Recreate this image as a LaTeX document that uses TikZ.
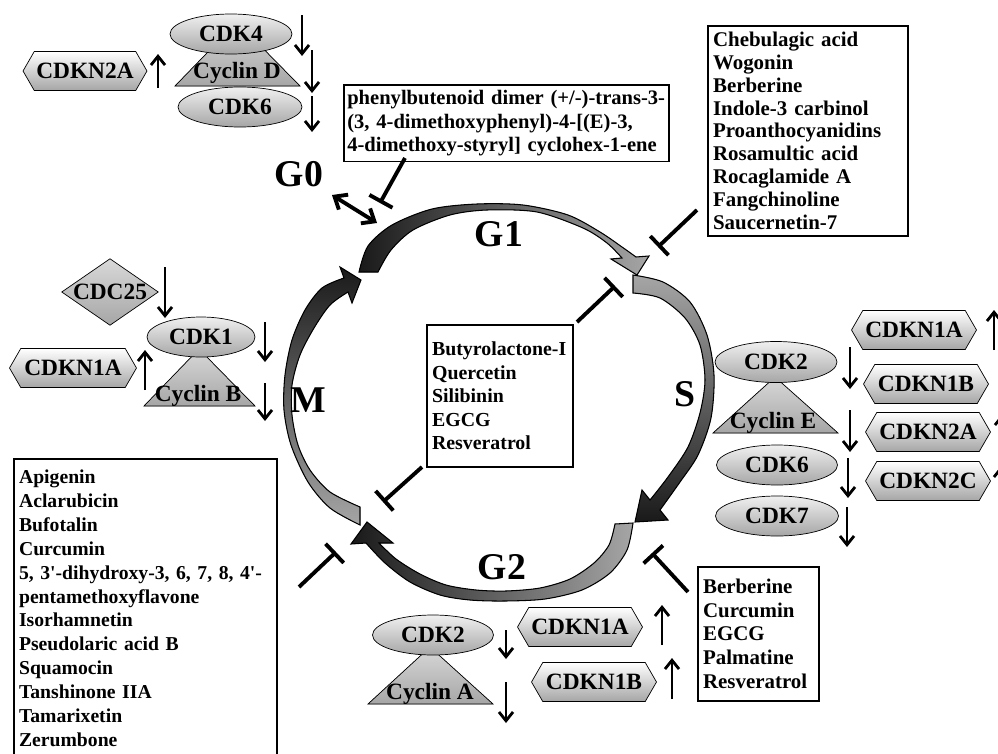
\documentclass[tikz,border=0pt]{standalone}
\usepackage{fontspec}
\setmainfont{Liberation Serif}
\usetikzlibrary{shapes.geometric, shapes.symbols, arrows.meta}

\begin{document}
\begin{tikzpicture}[x=0.02cm, y=-0.02cm,
    prot/.style={ellipse, draw, inner sep=0pt, top color=black!6, bottom color=black!35, minimum width=2.44cm, minimum height=0.8cm, font=\fontsize{13.3}{15}\selectfont\bfseries},
    kip/.style={signal, signal to=west and east, signal pointer angle=120, draw, inner sep=0pt, top color=white, bottom color=black!35, minimum width=2.5cm, minimum height=0.78cm, font=\fontsize{13.3}{15}\selectfont\bfseries},
    cyc/.style={draw, top color=black!15, bottom color=black!35},
    cyclab/.style={inner sep=0pt, font=\fontsize{13.3}{15}\selectfont\bfseries},
    drugs/.style={rectangle, draw, line width=0.9pt, anchor=north west, align=left, inner xsep=3pt, font=\fontsize{11.3}{13.4}\selectfont\bfseries},
    phase/.style={inner sep=0pt, font=\fontsize{21.5}{24}\selectfont\bfseries},
    wheel/.style={draw, line width=0.6pt},
    reg/.style={-{Straight Barb[length=5pt, width=8pt, line width=1.6pt]}, line width=1.5pt},
    block/.style={-{Bar[width=15pt]}, line width=2.2pt}
]
\useasboundingbox (0,0) rectangle (998,754);

% cycle wheel
\filldraw[wheel, left color=black!90, right color=black!35]
  plot[smooth] coordinates {(359,272) (368,246) (392,225) (432,209) (477,204) (523,205) (568,215) (600,232) (622,247) (636,257)}
  -- (649,256) -- (637,275) -- (611,259)
  -- plot[smooth] coordinates {(622,258) (607,243) (583,228) (537,212) (487,210) (450,215) (413,230) (391,250) (378,272)}
  -- cycle;
\filldraw[wheel, top color=black!35, bottom color=black!90]
  plot[smooth] coordinates {(633,275) (663,282) (690,302) (707,335) (714,375) (711,418) (698,455) (680,482) (660,510)}
  -- (668,520) -- (635,522) -- (642,490)
  -- plot[smooth] coordinates {(650,500) (668,477) (688,447) (700,413) (705,380) (700,345) (685,318) (660,298) (633,293)}
  -- cycle;
\filldraw[wheel, left color=black!90, right color=black!35]
  plot[smooth] coordinates {(633,523) (627,550) (610,573) (582,590) (545,599) (505,601) (470,600) (440,595) (410,582) (385,563) (366,543)}
  -- (351,544) -- (367,522) -- (393,543)
  -- plot[smooth] coordinates {(379,543) (396,559) (420,574) (446,585) (476,590) (506,591) (540,588) (570,579) (594,563) (609,545) (615,524)}
  -- cycle;
\filldraw[wheel, top color=black!90, bottom color=black!35]
  plot[smooth] coordinates {(360,525) (330,508) (308,482) (291,445) (284,410) (285,375) (292,340) (305,310) (322,288) (344,278)}
  -- (340,267) -- (361,280) -- (352,303)
  -- plot[smooth] coordinates {(348,292) (330,305) (314,328) (300,355) (292,385) (292,415) (298,445) (310,470) (330,492) (360,507)}
  -- cycle;

\node[phase] (gzero) at (299,174) {G0};
\node[phase] (gone) at (499,234) {G1};
\node[phase] (sph) at (685,394) {S};
\node[phase] (mph) at (308,400) {M};
\node[phase] (gtwo) at (502,567) {G2};

% drug boxes
\node[drugs, font=\fontsize{11.7}{13.2}\selectfont\bfseries, inner xsep=2pt, text width=6.36cm, minimum height=1.48cm] (phen) at (343,84)
  {phenylbutenoid dimer (+/-)-trans-3-\\(3, 4-dimethoxyphenyl)-4-[(E)-3,\\4-dimethoxy-styryl] cyclohex-1-ene};
\node[drugs, font=\fontsize{11.9}{13}\selectfont\bfseries, text width=3.79cm, minimum height=4.2cm] (cheb) at (707,25)
  {Chebulagic acid\\Wogonin\\Berberine\\Indole-3 carbinol\\Proanthocyanidins\\Rosamultic acid\\Rocaglamide A\\Fangchinoline\\Saucernetin-7};
\node[drugs, text width=2.71cm, minimum height=2.84cm] (buty) at (426,324)
  {Butyrolactone-I\\Quercetin\\Silibinin\\EGCG\\Resveratrol};
\node[drugs, font=\fontsize{11.9}{13.4}\selectfont\bfseries, text width=2.21cm, minimum height=2.68cm] (berb) at (697,566)
  {Berberine\\Curcumin\\EGCG\\Palmatine\\Resveratrol};
\node[drugs, font=\fontsize{11.2}{13.6}\selectfont\bfseries, text width=5.05cm, minimum height=5.98cm] (apig) at (13,458)
  {Apigenin\\Aclarubicin\\Bufotalin\\Curcumin\\5, 3\textquotesingle-dihydroxy-3, 6, 7, 8, 4\textquotesingle-\\pentamethoxyflavone\\Isorhamnetin\\Pseudolaric acid B\\Squamocin\\Tanshinone IIA\\Tamarixetin\\Zerumbone};

% inhibition
\coordinate (phenT) at (405,158);  \coordinate (phenH) at (380,203);
\coordinate (chebT) at (697,210);  \coordinate (chebH) at (658,247);
\coordinate (butyT) at (577,322);  \coordinate (butyH) at (615,286);
\coordinate (butyU) at (422,467);  \coordinate (butyL) at (383,502);
\coordinate (apigT) at (299,587);  \coordinate (apigH) at (336,552);
\coordinate (berbT) at (688,592);  \coordinate (berbH) at (652,553);
\draw[block] (phenT) -- (phenH);
\draw[block] (chebT) -- (chebH);
\draw[block] (butyT) -- (butyH);
\draw[block] (butyU) -- (butyL);
\draw[block] (apigT) -- (apigH);
\draw[block] (berbT) -- (berbH);

\coordinate (quiA) at (332,195);  \coordinate (quiB) at (377,223);
\draw[{Straight Barb[length=6pt, width=10pt]}-{Straight Barb[length=6pt, width=10pt]}, line width=2.2pt] (quiA) -- (quiB);

% G1 complexes
\filldraw[cyc] (175,86) -- (237,22) -- (300,86) -- cycle;
\node[cyclab] (cycd) at (237,73) {Cyclin D};
\node[prot] (cdkfour) at (231,34) {CDK4};
\node[prot, minimum width=2.48cm] (cdksix) at (240,107) {CDK6};
\node[kip, minimum width=2.48cm] (inkA) at (85,71) {CDKN2A};
\draw[reg] (158,88) -- (158,54);
\draw[reg] (302,15) -- (302,56);
\draw[reg] (312,50) -- (312,93);
\draw[reg] (312,96) -- (312,132);

% S complexes
\filldraw[cyc] (713,433) -- (775,377) -- (838,433) -- cycle;
\node[prot, minimum height=0.82cm] (cdktwoS) at (776,362) {CDK2};
\node[cyclab] (cyce) at (773,423) {Cyclin E};
\node[prot, minimum width=2.42cm] (cdksixS) at (777,465) {CDK6};
\node[prot, minimum width=2.46cm] (cdkseven) at (777,516) {CDK7};
\node[kip] (cipS) at (914,330) {CDKN1A};
\node[kip] (kipS) at (926,384) {CDKN1B};
\node[kip] (inkS) at (928,432) {CDKN2A};
\node[kip] (inkC) at (928,481) {CDKN2C};
\draw[reg] (850,347) -- (850,389);
\draw[reg] (850,410) -- (850,452);
\draw[reg] (848,458) -- (848,498);
\draw[reg] (847,507) -- (847,547);
\draw[reg] (994,350) -- (994,310);
\draw[reg] (1002,452) -- (1002,414);
\draw[reg] (1001,500) -- (1001,466);

% M complexes
\node[diamond, draw, aspect=1.45, inner sep=0pt, top color=black!15, bottom color=black!35, minimum width=1.88cm, minimum height=1.3cm, font=\fontsize{13.3}{15}\selectfont\bfseries] (cdc) at (110,292) {CDC25};
\filldraw[cyc] (144,406) -- (199,349) -- (255,406) -- cycle;
\node[prot, minimum width=2.16cm] (cdkone) at (201,337) {CDK1};
\node[cyclab] (cycb) at (198,396) {Cyclin B};
\node[kip, minimum width=2.54cm] (cipM) at (73,368) {CDKN1A};
\draw[reg] (165,267) -- (165,318);
\draw[reg] (145,390) -- (145,350);
\draw[reg] (265,322) -- (265,362);
\draw[reg] (265,383) -- (265,421);

% G2 complexes
\filldraw[cyc] (368,704) -- (430,647) -- (493,704) -- cycle;
\node[prot, minimum width=2.42cm] (cdktwoG) at (433,635) {CDK2};
\node[cyclab] (cyca) at (430,694) {Cyclin A};
\node[kip] (cipG) at (580,627) {CDKN1A};
\node[kip] (kipG) at (594,682) {CDKN1B};
\draw[reg] (506,630) -- (506,659);
\draw[reg] (506,682) -- (506,723);
\draw[reg] (662,645) -- (662,605);
\draw[reg] (672,699) -- (672,658);

\end{tikzpicture}
\end{document}
